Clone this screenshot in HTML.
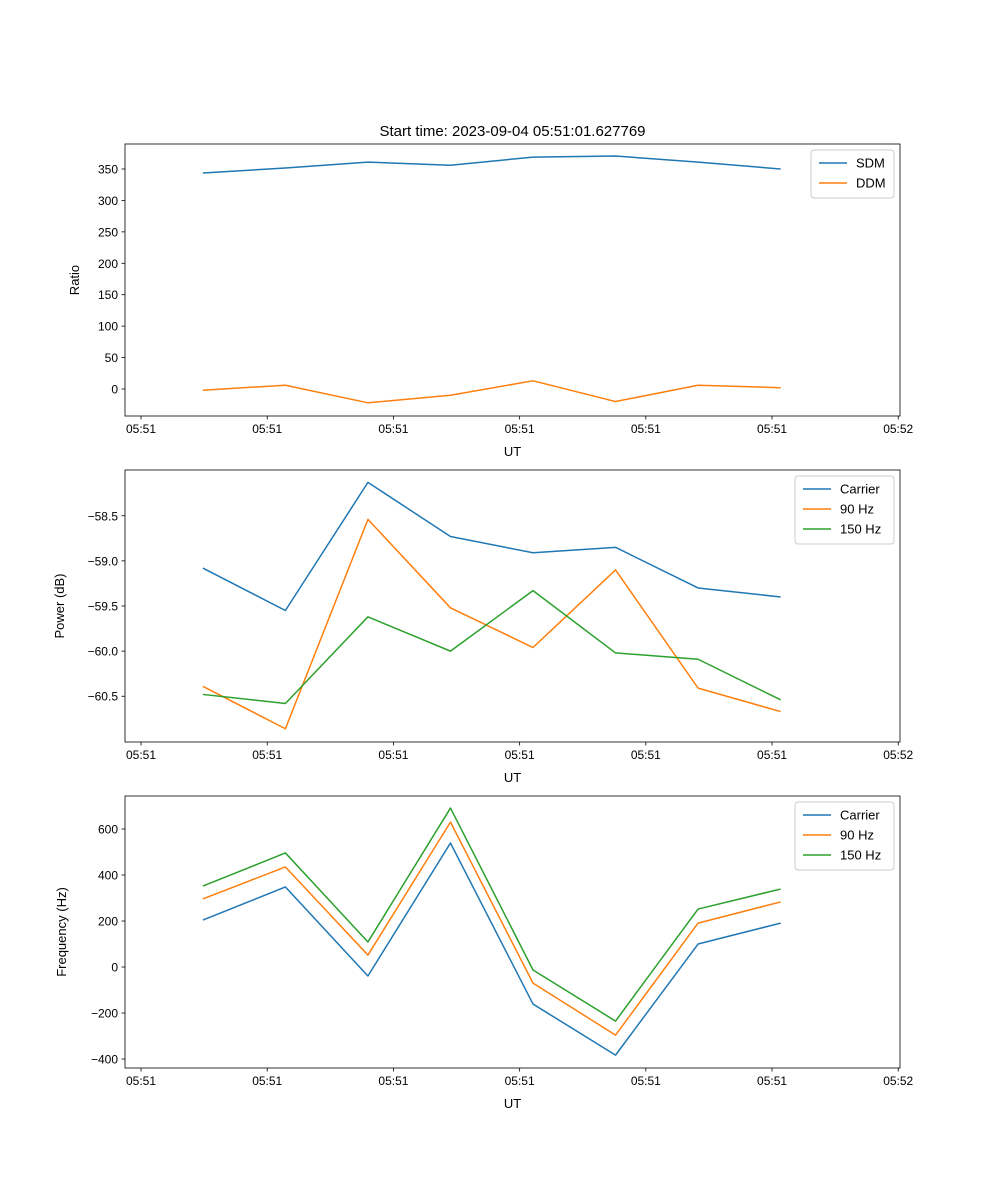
<!DOCTYPE html>
<html><head><meta charset="utf-8"><style>
body{margin:0;background:#fff}
svg{display:block;font-family:"Liberation Sans","DejaVu Sans",sans-serif}
</style></head><body>
<svg id="fig" width="1000" height="1200" viewBox="0 0 1000 1200"></svg>
<script>
const times = [4.9, 11.44, 17.98, 24.52, 31.06, 37.6, 44.14, 50.68];
const xTicks = [0, 10, 20, 30, 40, 50, 60];
const xTickLabels = ["05:51","05:51","05:51","05:51","05:51","05:51","05:52"];
const sdm = [343.6, 351.6, 361, 356, 369, 370.7, 361, 350];
const ddm = [-2, 6, -22, -10, 13, -20, 6, 2];
const ratioTicks = [0, 50, 100, 150, 200, 250, 300, 350];
const powCarrier = [-59.08, -59.55, -58.13, -58.73, -58.91, -58.85, -59.30, -59.40];
const pow90 = [-60.39, -60.86, -58.54, -59.52, -59.96, -59.10, -60.41, -60.67];
const pow150 = [-60.48, -60.58, -59.62, -60.00, -59.33, -60.02, -60.09, -60.54];
const powTicks = [-58.5, -59.0, -59.5, -60.0, -60.5];
const freqCarrier = [204, 348, -39, 539, -161, -383, 100, 191];
const freq90 = [296, 435, 52, 630, -70, -296, 191, 283];
const freq150 = [352, 496, 109, 691, -13, -235, 252, 339];
const freqTicks = [-400, -200, 0, 200, 400, 600];

const NS = "http://www.w3.org/2000/svg";
const svg = document.getElementById("fig");
function mk(tag, attrs, parent){const e=document.createElementNS(NS,tag);for(const k in attrs)e.setAttribute(k,attrs[k]);(parent||svg).appendChild(e);return e;}
const L=125,R=900,xmin=-1.27,xmax=60.14;
const xs=v=>L+(v-xmin)/(xmax-xmin)*(R-L);
const C={b:"#1f77b4",o:"#ff7f0e",g:"#2ca02c"};

function panel(name,top,ymin,ymax,yticks,fmt,ylabel,yx,series,legendW){
  const bot=top+272;
  const ys=v=>bot-(v-ymin)/(ymax-ymin)*(bot-top);
  const g=mk("g",{});
  
  
  series.forEach(s=>{
    const p=mk("polyline",{points:s.vals.map((v,i)=>xs(times[i])+","+ys(v)).join(" "),fill:"none",stroke:s.color,"stroke-width":1.5,"stroke-linejoin":"round"},g);
    
    
  });
  const fr=mk("rect",{x:L,y:top,width:R-L,height:bot-top,fill:"none",stroke:"#000","stroke-width":0.8},g);
  
  
  xTicks.forEach((t,i)=>{
    const x=xs(t);
    mk("line",{x1:x,y1:bot,x2:x,y2:bot+3.5,stroke:"#000","stroke-width":0.8},g);
    const tx=mk("text",{x:x,y:bot+17,"font-size":12,"text-anchor":"middle"},g);
    tx.textContent=xTickLabels[i];
    
    
  });
  const xl=mk("text",{x:(L+R)/2,y:bot+40,"font-size":13,"text-anchor":"middle"},g);
  xl.textContent="UT";
  
  
  yticks.forEach(t=>{
    const y=ys(t);
    mk("line",{x1:L-3.5,y1:y,x2:L,y2:y,stroke:"#000","stroke-width":0.8},g);
    const tx=mk("text",{x:L-7,y:y+4.5,"font-size":12,"text-anchor":"end"},g);
    tx.textContent=fmt(t);
    
    
  });
  const yl=mk("text",{x:yx,y:(top+bot)/2,"font-size":13,"text-anchor":"middle",transform:`rotate(-90 ${yx} ${(top+bot)/2})`},g);
  yl.textContent=ylabel;
  
  
  const lx=R-6-legendW, ly=top+6, lh=8+series.length*20;
  const lg=mk("g",{},g);
  
  
  mk("rect",{x:lx,y:ly,width:legendW,height:lh,rx:3,fill:"#fff","fill-opacity":0.8,stroke:"#ccc"},lg);
  series.forEach((s,i)=>{
    const yy=ly+13+i*20;
    mk("line",{x1:lx+8,y1:yy,x2:lx+36,y2:yy,stroke:s.color,"stroke-width":1.5},lg);
    const t=mk("text",{x:lx+45,y:yy+4.5,"font-size":13},lg);
    t.textContent=s.label;
    
    
  });
}
const minus=t=>(t<0?"\u2212":"")+Math.abs(t);
panel("ratio",144,-43,389.8,ratioTicks,minus,"Ratio",79,
  [{key:"sdm",label:"SDM",vals:sdm,color:C.b},{key:"ddm",label:"DDM",vals:ddm,color:C.o}],83);
panel("power",470,-61.007,-57.993,powTicks,t=>"\u2212"+Math.abs(t).toFixed(1),"Power (dB)",64,
  [{key:"carrier",label:"Carrier",vals:powCarrier,color:C.b},{key:"90hz",label:"90 Hz",vals:pow90,color:C.o},{key:"150hz",label:"150 Hz",vals:pow150,color:C.g}],99);
panel("frequency",796,-439,743.5,freqTicks,minus,"Frequency (Hz)",66,
  [{key:"carrier",label:"Carrier",vals:freqCarrier,color:C.b},{key:"90hz",label:"90 Hz",vals:freq90,color:C.o},{key:"150hz",label:"150 Hz",vals:freq150,color:C.g}],99);
const title=mk("text",{x:512.5,y:136,"font-size":15,"text-anchor":"middle"});
title.textContent="Start time: 2023-09-04 05:51:01.627769";


</script>
</body></html>
